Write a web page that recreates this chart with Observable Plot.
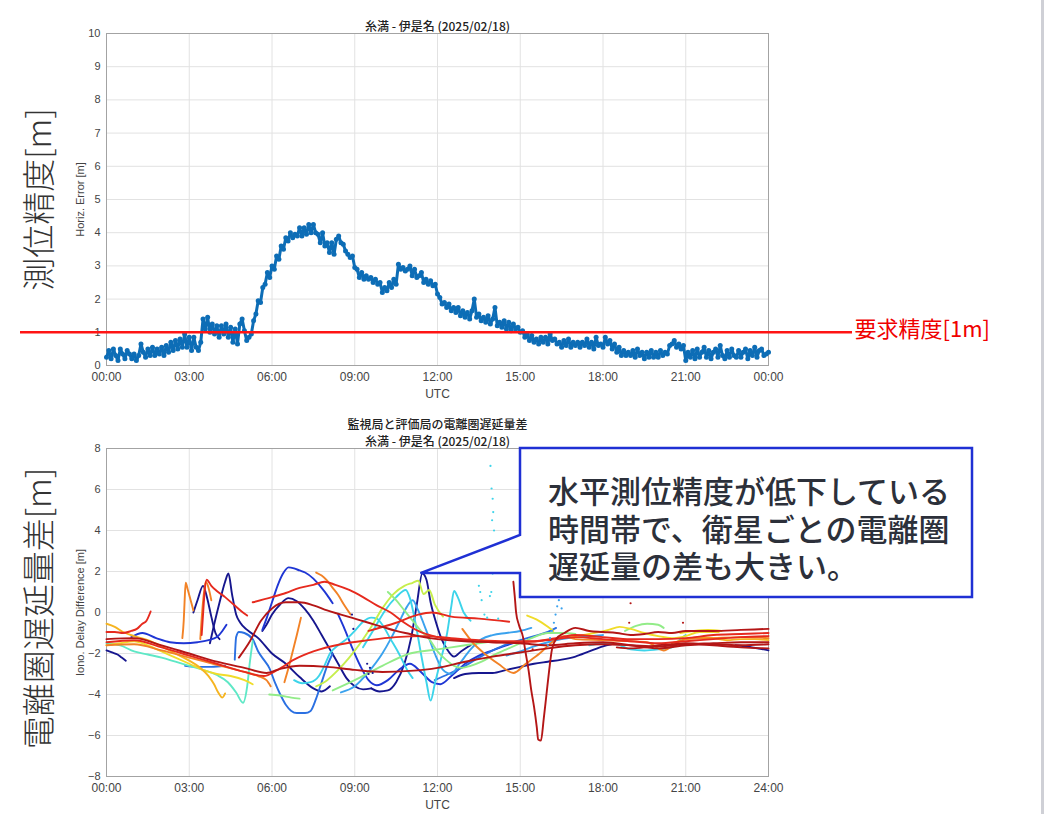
<!DOCTYPE html>
<html lang="ja">
<head>
<meta charset="utf-8">
<script src="https://cdn.jsdelivr.net/npm/d3@7"></script>
<script src="https://cdn.jsdelivr.net/npm/@observablehq/plot@0.6"></script>
<style>
  html, body { margin: 0; padding: 0; background: #fff; }
  #page { position: relative; width: 1050px; height: 814px; overflow: hidden; background: #fff; }
  #top, #bottom { position: absolute; left: 0; }
  #top { top: 0; }
  #bottom { top: 405px; }
  #edge { position: absolute; left: 1041px; top: 0; width: 3px; height: 814px; background: #cfd0d6; }
</style>
</head>
<body>
<div id="page">
  <div id="top"></div>
  <div id="bottom"></div>
  <div id="edge"></div>
</div>
<script>
// ---------- text ----------
const stationPair = "糸満 - 伊是名 (2025/02/18)";
const ionoTitle = "監視局と評価局の電離圏遅延量差";
const errSideLabel = "測位精度[m]";
const ionoSideLabel = "電離圏遅延量差[m]";
const errAxisLabel = "Horiz. Error [m]";
const ionoAxisLabel = "Iono. Delay Difference [m]";
const requiredLabel = "要求精度[1m]";
const requiredAccuracy = 1;
const calloutLines = ["水平測位精度が低下している", "時間帯で、衛星ごとの電離圏", "遅延量の差も大きい。"];
const calloutTip = [11.4, 1.9];

// ---------- ticks ----------
const hourTicks = [0, 3, 6, 9, 12, 15, 18, 21, 24];
const errTicks = [0, 1, 2, 3, 4, 5, 6, 7, 8, 9, 10];
const ionoTicks = [-8, -6, -4, -2, 0, 2, 4, 6, 8];

// ---------- horizontal error, one value every 5 minutes (00:00 .. 24:00) ----------
const errStepMinutes = 5;
const horizError = [
  0.25,0.45,0.20,0.50,0.30,0.15,0.50,0.35,0.20,0.45,0.35,0.20,
  0.35,0.15,0.30,0.65,0.40,0.25,0.50,0.30,0.55,0.30,0.50,0.35,
  0.55,0.30,0.60,0.40,0.70,0.45,0.75,0.50,0.80,0.55,0.95,0.55,
  0.85,0.45,0.85,0.55,0.45,0.70,1.40,1.10,1.45,1.00,1.25,0.95,
  1.20,0.85,1.20,0.95,1.25,0.85,1.15,0.70,1.10,0.65,1.25,1.40,
  1.05,0.75,0.85,0.95,1.35,1.55,1.95,1.90,2.35,2.45,2.80,2.65,
  3.00,2.90,3.30,3.20,3.60,3.50,3.85,3.75,4.00,3.85,3.95,3.90,
  4.15,3.90,4.15,3.95,4.25,4.00,4.25,4.00,3.95,3.70,4.00,3.60,
  3.70,3.40,3.70,3.35,3.80,3.90,3.70,3.65,3.45,3.35,3.25,3.30,
  2.95,2.90,2.65,2.80,2.60,2.70,2.60,2.65,2.50,2.60,2.45,2.50,
  2.20,2.35,2.25,2.50,2.35,2.60,2.45,3.05,2.90,2.95,2.85,2.90,
  3.00,2.70,2.90,2.65,2.70,2.80,2.50,2.60,2.45,2.55,2.40,2.45,
  2.15,2.05,1.85,1.90,1.75,1.85,1.65,1.75,1.60,1.75,1.50,1.65,
  1.45,1.60,1.40,1.65,2.00,1.45,1.55,1.35,1.45,1.30,1.50,1.25,
  1.40,1.75,1.20,1.30,1.15,1.35,1.10,1.30,1.05,1.25,1.10,1.15,
  1.00,1.05,0.85,0.95,0.75,0.90,0.70,0.80,0.65,0.85,0.70,0.85,
  0.65,0.95,0.75,0.80,0.65,0.70,0.55,0.75,0.60,0.80,0.55,0.70,
  0.60,0.70,0.55,0.70,0.60,0.80,0.55,0.70,0.50,0.85,0.60,0.65,
  0.55,0.85,0.65,0.75,0.50,0.65,0.40,0.55,0.30,0.45,0.30,0.40,
  0.30,0.45,0.25,0.50,0.30,0.40,0.20,0.40,0.25,0.45,0.25,0.40,
  0.25,0.45,0.30,0.40,0.35,0.60,0.65,0.75,0.55,0.65,0.50,0.60,
  0.15,0.40,0.25,0.45,0.20,0.50,0.25,0.40,0.55,0.25,0.45,0.20,
  0.40,0.50,0.25,0.60,0.30,0.20,0.45,0.25,0.50,0.30,0.25,0.45,
  0.25,0.40,0.50,0.20,0.45,0.30,0.55,0.25,0.45,0.50,0.30,0.35,
  0.40
];

// ---------- ionospheric delay difference per satellite: [hour, metres] ----------
const jet = {
  navy: "#16168e", blue: "#1f36d4", azure: "#2b70e2", sky: "#3aa2ee", cyan: "#3cd4ea",
  aqua: "#5ee8c6", lgreen: "#92ec88", ygreen: "#c6ee4c", yellow: "#f0dc2a",
  amber: "#f6b420", orange: "#f28226", red: "#e62a1e", dred: "#b41616"
};

const s01 = [[0,-1.85],[0.2,-1.95],[0.4,-2.05],[0.55,-2.2],[0.7,-2.35]];
const s08 = [[3.15,0.0],[3.3,0.6],[3.5,1.3],[3.65,0.7],[3.8,-0.2],[3.95,-1.0],[4.1,-1.3]];
const s09 = [[3.75,-1.5],[3.9,-0.6],[4.1,0.5],[4.3,1.5],[4.42,1.9],[4.55,0.9],[4.7,-0.1],[4.85,-0.5],[5.1,-0.85],[5.5,-1.25],[6.0,-2.0],[6.5,-2.5],[7.0,-3.15],[7.5,-3.7],[7.8,-3.85],[8.1,-3.6]];
const s37 = [[5.65,-0.9],[5.8,-0.6],[6.0,-0.1],[6.3,0.4],[6.6,0.7],[6.9,0.55],[7.2,0.15],[7.5,-0.4],[7.8,-1.1],[8.1,-1.8],[8.4,-2.5],[8.7,-3.2],[9.0,-3.6],[9.3,-3.75],[9.6,-3.7]];
const s27 = [[9.6,-3.7],[9.9,-3.85],[10.2,-3.8],[10.5,-3.4],[10.8,-2.5],[11.05,-1.2],[11.25,0.4],[11.45,1.9],[11.6,1.6],[11.75,0.5],[11.95,-0.5],[12.15,-1.3],[12.35,-1.8],[12.6,-2.15],[12.85,-1.9],[13.2,-1.6]];
const s25 = [[12.6,-3.2],[13.0,-3.0],[13.5,-2.95],[14.0,-2.95],[14.5,-2.8],[15,-2.65],[15.5,-2.5],[16,-2.4],[16.5,-2.3],[17,-2.15],[17.5,-1.9],[18,-1.65],[18.3,-1.55]];
const s26 = [[22.8,-1.6],[23.4,-1.7],[24,-1.85]];
const s10 = [[5.65,-0.85],[5.8,-0.3],[6.0,0.5],[6.2,1.3],[6.4,1.9],[6.6,2.2],[6.8,2.15],[7.0,2.05],[7.2,1.95],[7.5,1.65],[7.8,1.2],[8.0,0.85],[8.2,0.45]];
const s28 = [[8.4,-0.1],[8.6,-0.7],[8.9,-1.7],[9.2,-2.6],[9.5,-3.3],[9.8,-3.55],[10.2,-3.3],[10.6,-2.8],[11.0,-2.5],[11.4,-2.9],[11.8,-3.4],[12.1,-3.5],[12.5,-3.1],[13.0,-2.5],[13.5,-2.1],[14,-1.85],[14.5,-1.6],[15,-1.4]];
const s34 = [[0.9,-1.2],[1.3,-1.0],[1.8,-1.25],[2.3,-1.45],[2.8,-1.5],[3.3,-1.45],[3.7,-1.35],[4.0,-1.2],[4.2,-0.9],[4.35,-0.6]];
const s11 = [[4.65,-2.3],[4.7,-1.2],[4.8,-0.95],[5.0,-1.0],[5.3,-1.3],[5.5,-1.9],[5.7,-2.3],[5.9,-2.7],[6.1,-3.4],[6.3,-4.0],[6.5,-4.5],[6.7,-4.8],[6.9,-4.9],[7.2,-4.9],[7.4,-4.8],[7.6,-4.2],[7.8,-3.4],[8.0,-2.6],[8.2,-2.0]];
const s35 = [[2.85,-2.6],[3.3,-2.65],[3.8,-2.65],[4.3,-2.6]];
const s24 = [[11.9,-3.3],[12.4,-3.0],[13,-2.6],[13.5,-2.2],[14,-1.85],[14.5,-1.55],[15,-1.35],[15.5,-1.15],[16,-0.95],[16.3,-0.75]];
const s23 = [[8.5,-3.9],[9.0,-3.6],[9.5,-2.9],[10.0,-2.0],[10.3,-1.3],[10.6,-0.5],[10.9,0.3],[11.1,0.6],[11.3,0.1],[11.6,-0.9],[11.9,-2.0],[12.2,-2.8],[12.5,-3.0],[12.8,-2.5],[13.2,-1.8],[13.6,-1.3],[14.0,-1.1],[14.5,-1.0],[15,-0.9],[15.4,-0.75]];
const s46 = [[14.5,-2.1],[15,-1.9],[15.5,-1.65],[16,-1.45],[16.5,-1.3],[17,-1.2],[17.5,-1.15],[18,-1.1]];
const s22 = [[6.8,-3.3],[7.1,-3.45],[7.4,-3.4],[7.7,-3.1],[7.9,-2.6],[8.1,-2.0],[8.4,-1.6],[8.7,-1.3],[9.0,-0.9],[9.3,-0.45],[9.6,-0.25],[9.8,-0.3],[10.0,-0.6],[10.3,-1.3],[10.6,-2.0],[10.9,-2.8],[11.1,-3.2]];
const s45 = [[9.3,-1.7],[9.7,-0.8],[10.1,0.1],[10.5,0.75],[10.85,1.1],[11.0,0.7],[11.2,-0.5],[11.4,-2.0],[11.6,-3.4],[11.75,-4.3],[11.9,-3.5],[12.1,-2.4],[12.35,-1.0],[12.5,0.3],[12.6,1.05],[12.75,0.7],[12.95,0.0],[13.2,-0.4]];
const s40 = [[17.5,-1.6],[18,-1.5],[18.5,-1.55],[19,-1.8],[19.5,-1.85],[20,-1.8],[20.5,-1.7],[20.8,-1.3],[21,-1.1]];
const s04 = [[0,-1.5],[0.5,-1.6],[1.0,-1.9],[1.5,-2.05],[2.0,-2.2],[2.5,-2.4],[3.0,-2.6],[3.5,-2.8],[4.0,-3.05],[4.4,-3.4],[4.7,-3.9],[4.95,-4.4],[5.1,-3.6],[5.2,-2.4],[5.3,-1.4]];
const s29 = [[5.9,-4.0],[6.3,-4.05],[6.7,-4.15],[7.0,-4.2]];
const s31 = [[10.2,1.0],[10.5,0.6],[10.8,0.1],[11.1,-0.4],[11.4,-0.9],[11.7,-1.3],[12.0,-1.9],[12.3,-2.3],[12.6,-2.6],[12.9,-2.7],[13.2,-2.6],[13.6,-2.4],[14.0,-2.1],[14.5,-1.8],[15,-1.5],[15.5,-1.2],[16,-1.0],[16.5,-1.0],[17,-1.05]];
const s32 = [[8.2,-3.8],[9,-3.3],[10,-2.6],[11,-2.0],[12,-1.8],[13,-1.6],[14,-1.4]];
const s39 = [[18.8,-0.9],[19.2,-0.65],[19.6,-0.55],[20.0,-0.6],[20.2,-0.75]];
const s30 = [[7.6,-3.6],[8.0,-3.3],[8.4,-2.8],[8.8,-2.2],[9.2,-1.5],[9.6,-0.7],[10.0,0.2],[10.4,0.9],[10.8,1.3],[11.1,1.45],[11.3,1.55],[11.5,0.9],[11.7,1.1],[11.9,0.4],[12.2,-0.2]];
const s36 = [[0,-1.6],[0.5,-1.5],[1,-1.4],[1.5,-1.6],[2,-1.9],[2.5,-2.2],[3,-2.5],[3.5,-2.8],[4,-3.0],[4.5,-3.1],[5,-3.3],[5.3,-3.5]];
const s38 = [[16.8,-1.2],[17.5,-1.05],[18.2,-0.85],[18.6,-0.7],[19.0,-0.8],[19.5,-1.0],[20,-1.15],[20.5,-1.25],[21,-1.15],[21.5,-0.95],[22.2,-0.95]];
const s42 = [[20.8,-1.0],[21.3,-0.9],[21.8,-0.85],[22.3,-0.9]];
const s48 = [[15.25,-0.15],[15.6,-0.35],[16.0,-0.7],[16.2,-0.9]];
const s03 = [[0,-0.55],[0.3,-0.7],[0.6,-0.95],[1.0,-1.15],[1.5,-1.35],[2.0,-1.65],[2.5,-2.0],[3.0,-2.35],[3.4,-2.7],[3.7,-3.1],[3.9,-3.5],[4.05,-3.9],[4.2,-4.15],[4.3,-3.95]];
const s41 = [[20.5,-1.5],[21,-1.3],[21.5,-1.2],[22,-1.25],[22.5,-1.35],[23,-1.3],[23.5,-1.3],[24,-1.35]];
const s05 = [[2.75,-1.25],[2.8,-0.4],[2.83,0.5],[2.87,1.45],[2.95,1.1],[3.05,0.6],[3.15,0.1]];
const s07 = [[3.4,-1.3],[3.45,-0.3],[3.52,0.8],[3.6,1.5],[3.7,1.2],[3.8,0.6]];
const s18 = [[6.45,-3.4],[6.6,-2.7],[6.75,-1.9],[6.9,-1.1],[7.05,-0.25]];
const s19 = [[7.6,1.95],[7.8,1.8],[8.0,1.55],[8.2,1.2],[8.4,0.85],[8.6,0.4],[8.85,-0.1]];
const s20 = [[12.9,-0.8],[13.3,-1.5],[13.7,-2.0],[14.2,-2.5],[14.75,-2.95],[15.2,-2.5],[15.7,-2.0],[16.2,-1.4],[16.6,-1.15],[17,-1.3],[18,-1.35],[19,-1.4],[19.6,-1.45],[20.2,-1.85],[20.6,-1.55],[21,-1.3],[22,-1.25],[23,-1.2],[24,-1.25]];
const s21 = [[0,-1.6],[1,-1.55],[2,-1.85],[3,-2.2],[4,-2.55],[5,-2.9],[5.5,-3.1],[5.8,-3.3],[5.95,-3.6]];
const s02 = [[0,-0.95],[0.3,-0.95],[0.6,-1.0],[0.9,-0.9],[1.1,-0.8],[1.3,-0.55],[1.45,-0.4],[1.6,0.05]];
const s06 = [[3.45,-1.1],[3.5,-0.1],[3.55,0.9],[3.63,1.6],[3.8,1.3],[4.0,1.05],[4.3,0.75],[4.6,0.4],[4.9,0.05],[5.1,-0.15]];
const s12 = [[5.3,0.5],[6.0,0.75],[6.5,0.95],[7.0,1.2],[7.5,1.35],[7.9,1.5],[8.3,1.35],[8.8,1.1],[9.3,0.75],[9.8,0.35],[10.3,0.0],[10.8,-0.5],[11.3,-0.9],[12.0,-1.2],[13.0,-1.35],[14.0,-1.45],[15.0,-1.45],[16.0,-1.35],[17.0,-1.2],[18.0,-1.3],[19.0,-1.4],[20.0,-1.5],[21,-1.4],[22,-1.3],[23,-1.2],[24,-1.15]];
const s15 = [[0,-1.45],[1,-1.35],[2,-1.7],[3,-2.1],[4,-2.5],[5,-2.9],[5.7,-3.1],[6.2,-2.8],[6.8,-2.3],[7.5,-1.9],[8.5,-1.55],[9.5,-1.35],[10.5,-1.2],[11.5,-1.15],[12.5,-1.25],[13.5,-1.35],[14.5,-1.4],[15.5,-1.4],[16.5,-1.2],[17,-1.1],[18,-1.2],[19,-1.3],[20,-1.3],[21,-1.25],[22,-1.1],[23,-1.05],[24,-1.0]];
const s16 = [[9.5,-0.9],[10.5,-0.5],[11.3,-0.1],[11.8,0.0],[12.5,-0.2],[13.5,-0.3],[14.6,-0.45]];
const s13 = [[4.8,-2.2],[5.2,-1.4],[5.6,-0.4],[6.0,0.2],[6.5,0.5],[7.0,0.5],[7.5,0.35],[8.0,0.1],[8.5,-0.1],[9.0,-0.3],[9.5,-0.5],[10.0,-0.7],[10.5,-0.9],[11.0,-1.05],[11.5,-1.2],[12.0,-1.3],[13,-1.4],[14,-1.45],[15,-1.5],[16,-1.6],[17,-1.5],[18,-1.45],[19,-1.6],[20,-1.75],[21,-1.6],[22,-1.55],[23,-1.6],[24,-1.55]];
const s14 = [[0,-1.3],[1,-1.25],[2,-1.6],[3,-2.0],[4,-2.4],[5,-2.7],[5.8,-2.95],[6.3,-2.75],[7,-2.6],[8,-2.65],[9,-2.8],[10,-2.9],[11,-2.85],[12,-2.7],[13,-2.4],[14,-2.15],[15,-1.95],[16,-1.75],[17,-1.6],[18,-1.55],[19,-1.6],[20,-1.65],[21,-1.55],[22,-1.5],[23,-1.45],[24,-1.45]];
const s17 = [[14.75,1.5],[14.8,0.8],[14.85,0.0],[14.95,-0.6],[15.1,-1.2],[15.2,-2.0],[15.3,-2.8],[15.4,-3.8],[15.5,-4.6],[15.6,-5.6],[15.65,-6.2],[15.75,-6.25],[15.85,-5.2],[15.95,-4.0],[16.05,-2.8],[16.15,-1.8],[16.3,-1.3],[16.6,-1.0],[17,-0.75],[17.5,-0.9],[18,-0.95],[18.5,-1.0],[19,-1.1],[19.5,-1.05],[20,-0.95],[20.5,-1.0],[21,-0.9],[22,-0.9],[23,-0.85],[24,-0.8]];
const s43 = [[18.5,-1.7],[19,-1.75],[19.5,-1.7],[20,-1.6],[20.5,-1.55],[21,-1.5],[22,-1.6],[23,-1.7],[24,-1.75]];

// drawing order: blue family first, red family last
const ionoTracks = [
  [s01, jet.navy], [s08, jet.navy], [s09, jet.navy], [s37, jet.navy], [s27, jet.navy], [s25, jet.navy], [s26, jet.navy],
  [s10, jet.blue], [s28, jet.blue], [s34, jet.blue],
  [s11, jet.azure], [s35, jet.azure], [s24, jet.azure],
  [s23, jet.sky], [s46, jet.sky],
  [s22, jet.cyan], [s45, jet.cyan], [s40, jet.cyan],
  [s04, jet.aqua],
  [s29, jet.lgreen], [s31, jet.lgreen], [s32, jet.lgreen], [s39, jet.lgreen],
  [s30, jet.ygreen],
  [s36, jet.yellow], [s38, jet.yellow], [s42, jet.yellow], [s48, jet.yellow],
  [s03, jet.amber], [s41, jet.amber],
  [s05, jet.orange], [s07, jet.orange], [s18, jet.orange], [s19, jet.orange], [s20, jet.orange], [s21, jet.orange],
  [s02, jet.red], [s06, jet.red], [s12, jet.red], [s15, jet.red], [s16, jet.red],
  [s13, jet.dred], [s14, jet.dred], [s17, jet.dred], [s43, jet.dred]
];

// isolated samples
const dotsCyan = [[13.92,7.15],[13.96,6.05],[14.0,5.55],[14.02,4.9],[13.98,4.5],[14.05,4.0],[14.1,3.3],[14.0,1.9],[13.95,1.0],[13.9,0.8],[13.5,1.3],[13.55,1.0],[13.6,0.6],[13.7,-0.1],[13.8,-0.25],[14.2,-0.3]];
const dotsSky = [[16.0,-1.6],[16.08,-1.25],[16.15,-0.9],[16.22,-0.5],[16.28,-0.1],[16.34,0.3],[16.4,0.6],[16.45,0.85],[16.5,0.2]];
const dotsNavy = [[8.9,-0.1],[8.95,-0.8],[9.45,-2.5],[9.55,-2.7],[9.65,-2.95],[9.5,-3.0]];
const dotsDred = [[19.0,0.45],[18.95,-0.5],[20.9,-0.5],[15.45,-1.8]];

// ---------- shared style ----------
const CJK = "'Noto Sans CJK JP', 'Noto Sans', sans-serif";
const baseStyle = { fontFamily: "'Liberation Sans', Arial, sans-serif", fontSize: "12px", color: "#444", background: "transparent", overflow: "visible" };
const hh = h => String(h).padStart(2, "0") + ":00";
const gridStyle = { stroke: "#e2e2e2", strokeOpacity: 1 };

// ---------- horizontal error chart ----------
const errData = horizError.map((v, i) => ({ t: i * errStepMinutes / 60, v }));

const topPlot = Plot.plot({
  width: 1050, height: 405,
  marginLeft: 106, marginRight: 282, marginTop: 33, marginBottom: 40,
  style: baseStyle,
  x: { domain: [0, 24] },
  y: { domain: [0, 10] },
  marks: [
    Plot.gridX({ ticks: hourTicks, ...gridStyle }),
    Plot.gridY({ ticks: errTicks, ...gridStyle }),
    Plot.frame({ stroke: "#a3a3a3" }),
    Plot.axisX({ ticks: hourTicks, tickSize: 0, tickPadding: 7, tickFormat: h => hh(h % 24),
      label: "UTC", labelAnchor: "center", labelArrow: "none", labelOffset: 32 }),
    Plot.axisY({ ticks: errTicks, tickSize: 0, tickPadding: 6, fontSize: 11,
      label: errAxisLabel, labelAnchor: "center", labelArrow: "none", labelOffset: 30 }),
    Plot.line(errData, { x: "t", y: "v", stroke: "#0d6db6", strokeWidth: 3 }),
    Plot.dot(errData, { x: "t", y: "v", r: 2.5, fill: "#0d6db6" }),
    Plot.ruleY([requiredAccuracy], { stroke: "#ff1414", strokeWidth: 2.4, insetLeft: -86, insetRight: -84 }),
    Plot.text([requiredLabel], { text: d => d, y: () => requiredAccuracy, frameAnchor: "right", dx: 86, dy: -2,
      textAnchor: "start", fill: "#f00000", fontSize: 22, fontFamily: CJK }),
    Plot.text([stationPair], { text: d => d, frameAnchor: "top", dy: -11, fontFamily: CJK, fontSize: 12, fontWeight: 500, fill: "#222" }),
    Plot.text([errSideLabel], { text: d => d, frameAnchor: "left", textAnchor: "middle", dx: -66, rotate: -90,
      fontFamily: CJK, fontSize: 33, fontWeight: 300, fill: "#333" })
  ]
});
document.getElementById("top").append(topPlot);

// ---------- ionospheric delay difference chart ----------
const ionoData = ionoTracks.flatMap(([pts, color], k) => pts.map(([t, v]) => ({ k, t, v, color })));
const toRows = (pts, color) => pts.map(([t, v]) => ({ t, v, color }));
const scatter = [
  ...toRows(dotsCyan, jet.cyan), ...toRows(dotsSky, jet.sky),
  ...toRows(dotsNavy, jet.navy), ...toRows(dotsDred, jet.dred)
];

// speech-bubble annotation whose pointer ends at calloutTip (in data units)
function callout(index, { x, y }, values, dims) {
  const g = d3.create("svg:g");
  const L = dims.marginLeft + 414, R = dims.marginLeft + 866;
  const T = dims.marginTop, B = dims.marginTop + 149, J = dims.marginTop + 87;
  const tx = x(calloutTip[0]), ty = y(calloutTip[1]);
  g.append("path")
    .attr("d", `M${L},${T}H${R}V${B}H${L}V${ty}H${tx}L${L},${J}Z`)
    .attr("fill", "#fff").attr("stroke", "#1f30d4").attr("stroke-width", 2.5);
  const txt = g.append("text")
    .attr("text-anchor", "start")
    .attr("font-family", CJK).attr("font-size", 31).attr("font-weight", 500)
    .attr("fill", "#2c303a");
  calloutLines.forEach((s, i) => {
    txt.append("tspan")
      .attr("x", L + 28).attr("y", T + 55 + i * 37.5)
      .text(s);
  });
  return g.node();
}

const bottomPlot = Plot.plot({
  width: 1050, height: 409,
  marginLeft: 106, marginRight: 282, marginTop: 43, marginBottom: 38,
  style: baseStyle,
  x: { domain: [0, 24] },
  y: { domain: [-8, 8] },
  marks: [
    Plot.gridX({ ticks: hourTicks, ...gridStyle }),
    Plot.gridY({ ticks: ionoTicks, ...gridStyle }),
    Plot.frame({ stroke: "#a3a3a3" }),
    Plot.axisX({ ticks: hourTicks, tickSize: 0, tickPadding: 7, tickFormat: hh,
      label: "UTC", labelAnchor: "center", labelArrow: "none", labelOffset: 32 }),
    Plot.axisY({ ticks: ionoTicks, tickSize: 0, tickPadding: 6, fontSize: 11,
      label: ionoAxisLabel, labelAnchor: "center", labelArrow: "none", labelOffset: 30 }),
    Plot.line(ionoData, { x: "t", y: "v", z: "k", stroke: "color", strokeWidth: 1.9, curve: "monotone-x" }),
    Plot.dot(scatter, { x: "t", y: "v", r: 1.1, fill: "color" }),
    callout,
    Plot.text([ionoTitle], { text: d => d, frameAnchor: "top", dy: -28, fontFamily: CJK, fontSize: 12, fontWeight: 500, fill: "#222" }),
    Plot.text([stationPair], { text: d => d, frameAnchor: "top", dy: -11, fontFamily: CJK, fontSize: 12, fontWeight: 500, fill: "#222" }),
    Plot.text([ionoSideLabel], { text: d => d, frameAnchor: "left", textAnchor: "middle", dx: -66, dy: -4, rotate: -90,
      fontFamily: CJK, fontSize: 33, fontWeight: 300, fill: "#333" })
  ]
});
document.getElementById("bottom").append(bottomPlot);
</script>
</body>
</html>
